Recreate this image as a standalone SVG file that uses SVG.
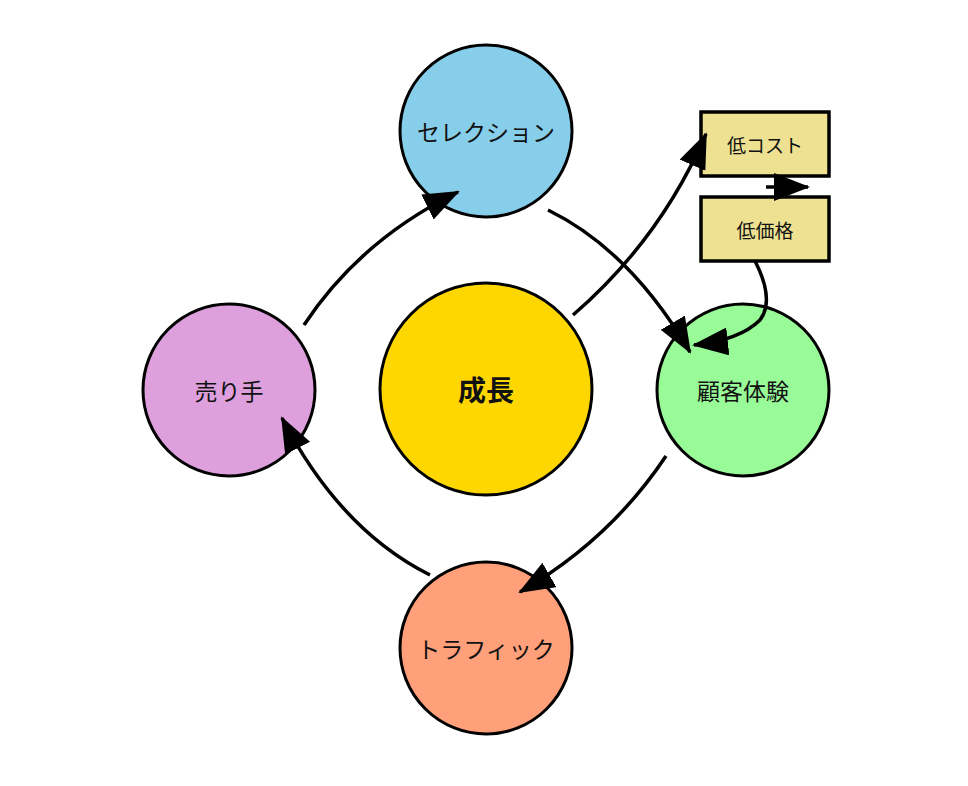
<svg xmlns="http://www.w3.org/2000/svg" width="968" height="786" viewBox="0 0 968 786">
<style>
.c{stroke:#000;stroke-width:3}
.b{fill:#EEE292;stroke:#000;stroke-width:3.5}
.t{font-family:"Noto Sans CJK JP","Liberation Sans",sans-serif;font-size:23px;text-anchor:middle;dominant-baseline:central;fill:#111}
.s{font-size:19px}
.e{fill:none;stroke:#000;stroke-width:3.5;marker-end:url(#a)}
</style>
<defs><marker id="a" markerUnits="userSpaceOnUse" markerWidth="40" markerHeight="30" refX="34" refY="14" orient="auto"><path d="M0,0L36,14L0,28Z"/></marker></defs>
<rect width="968" height="786" fill="#fff"/>
<g id="selection"><circle class="c" cx="486" cy="131" r="86" fill="#87CEEB"/><text class="t" x="486" y="131">セレクション</text></g>
<g id="sellers"><circle class="c" cx="229" cy="390" r="86" fill="#DDA0DD"/><text class="t" x="229" y="390">売り手</text></g>
<g id="growth"><circle class="c" cx="486" cy="389" r="106" fill="#FFD700"/><text class="t" x="486" y="389" style="font-weight:bold;font-size:28px">成長</text></g>
<g id="cx"><circle class="c" cx="743" cy="390" r="86" fill="#98FB98"/><text class="t" x="743" y="390">顧客体験</text></g>
<g id="traffic"><circle class="c" cx="486" cy="648" r="86" fill="#FFA07A"/><text class="t" x="486" y="648">トラフィック</text></g>
<g id="lowcost"><rect class="b" x="701" y="112" width="128" height="64"/><text class="t s" x="765" y="144">低コスト</text></g>
<g id="lowprice"><rect class="b" x="701" y="197" width="128" height="64"/><text class="t s" x="765" y="229">低価格</text></g>
<g id="connectors">
<path class="e" d="M304,325 Q360,240 458,192"/>
<path class="e" d="M548,210 Q630,250 690,352"/>
<path class="e" d="M666,456 Q610,540 520,592"/>
<path class="e" d="M430,575 Q340,530 282,418"/>
<path class="e" d="M573,315 Q660,240 706,134"/>
<path class="e" d="M766,187 L808,187"/>
<path class="e" d="M755,261 Q775,300 760,320 Q740,340 694,345"/>
</g>
</svg>
